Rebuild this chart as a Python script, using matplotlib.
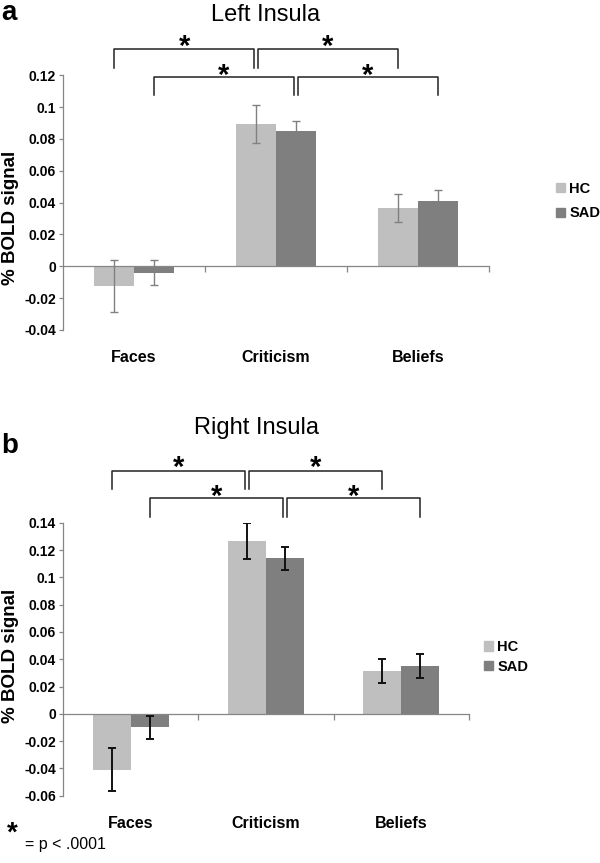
import numpy as np
import matplotlib
matplotlib.use('Agg')
import matplotlib.pyplot as plt
from matplotlib.ticker import FuncFormatter
from matplotlib.patches import Patch

plt.rcParams['font.family'] = ['Liberation Sans', 'DejaVu Sans']
plt.rcParams['axes.unicode_minus'] = False

# data
categories = ['Faces', 'Criticism', 'Beliefs']
groups = ['HC', 'SAD']

left_hc = [-0.0125, 0.0895, 0.0365]
left_hc_err = [0.0165, 0.012, 0.0088]
left_sad = [-0.004, 0.085, 0.041]
left_sad_err = [0.0077, 0.0065, 0.007]

right_hc = [-0.041, 0.1267, 0.0313]
right_hc_err = [0.0156, 0.013, 0.0086]
right_sad = [-0.010, 0.114, 0.035]
right_sad_err = [0.0087, 0.0085, 0.0086]

left_ticks = [-0.04, -0.02, 0, 0.02, 0.04, 0.06, 0.08, 0.1, 0.12]
right_ticks = [-0.06, -0.04, -0.02, 0, 0.02, 0.04, 0.06, 0.08, 0.1, 0.12, 0.14]

# significance brackets: (group a, cat a, group b, cat b)
brackets = [(0, 0, 0, 1), (0, 1, 0, 2), (1, 0, 1, 1), (1, 1, 1, 2)]

hc_col = '#bfbfbf'
sad_col = '#7f7f7f'
axis_col = '#868686'
W = 0.28

W_PX, H_PX = 600, 863


def fx(px):
    return px / W_PX


def fy(py):
    return 1 - py / H_PX


def fmt(v, pos):
    v = round(v, 4)
    if v == 0:
        return '0'
    return '%g' % v


def draw_panel(ax, hc, hc_err, sad, sad_err, ticks, ecol, elw, rows):
    x = np.arange(len(categories))
    ax.bar(x - W / 2, hc, W, color=hc_col, label=groups[0], zorder=2)
    ax.bar(x + W / 2, sad, W, color=sad_col, label=groups[1], zorder=2)
    ax.errorbar(x - W / 2, hc, yerr=hc_err, fmt='none', ecolor=ecol,
                elinewidth=elw, capsize=3, capthick=elw, zorder=3)
    ax.errorbar(x + W / 2, sad, yerr=sad_err, fmt='none', ecolor=ecol,
                elinewidth=elw, capsize=3, capthick=elw, zorder=3)

    ax.set_xlim(-0.5, 2.5)
    ax.set_ylim(ticks[0], ticks[-1])
    ax.set_yticks(ticks)
    ax.yaxis.set_major_formatter(FuncFormatter(fmt))
    ax.set_xticks([0.5, 1.5, 2.5])
    ax.set_xticklabels([])
    for s in ['top', 'right']:
        ax.spines[s].set_visible(False)
    ax.spines['bottom'].set_position(('data', 0))
    ax.spines['bottom'].set_color(axis_col)
    ax.spines['left'].set_color(axis_col)
    ax.spines['left'].set_linewidth(0.9)
    ax.spines['bottom'].set_linewidth(0.9)
    ax.tick_params(axis='y', direction='out', length=3, width=0.9,
                   color=axis_col, labelsize=10, pad=2)
    ax.tick_params(axis='x', direction='out', length=4.5, width=0.9,
                   color=axis_col)
    for lab in ax.get_yticklabels():
        lab.set_fontweight('bold')

    # category names under the plot area
    for i, c in enumerate(categories):
        ax.annotate(c, xy=(i, 0), xycoords=('data', 'axes fraction'),
                    xytext=(0, -20), textcoords='offset points',
                    ha='center', va='center', fontsize=11.5, fontweight='bold')

    # brackets
    for k, (ga, ca, gb, cb) in enumerate(brackets):
        top, leg, star_y = rows[ga]
        xa = ca + (W / 2 if ga else -W / 2)
        xb = cb + (W / 2 if gb else -W / 2)
        if k in (0, 2):
            xb -= 0.012
        else:
            xa += 0.012
        ax.plot([xa, xa, xb, xb], [leg, top, top, leg], color='#222222',
                lw=1.1, clip_on=False, zorder=4)
        ax.text((xa + xb) / 2, star_y, '*', ha='center', va='center',
                fontsize=21, fontweight='bold', clip_on=False)


fig = plt.figure(figsize=(6, 8.63), dpi=100)

ax1 = fig.add_axes([fx(63), fy(330), fx(489 - 63), (330 - 75.3) / H_PX])
draw_panel(ax1, left_hc, left_hc_err, left_sad, left_sad_err, left_ticks,
           '#808080', 1.0,
           {0: (0.1364, 0.1248, 0.1378), 1: (0.1187, 0.1074, 0.1195)})

ax2 = fig.add_axes([fx(63), fy(795.7), fx(469 - 63), (795.7 - 522.7) / H_PX])
draw_panel(ax2, right_hc, right_hc_err, right_sad, right_sad_err, right_ticks,
           '#111111', 1.4,
           {0: (0.1782, 0.1646, 0.1800), 1: (0.1584, 0.1444, 0.1590)})

# titles and panel letters
fig.text(fx(266), fy(20.7), 'Left Insula', ha='center', va='baseline', fontsize=17)
fig.text(fx(257), fy(434), 'Right Insula', ha='center', va='baseline', fontsize=17)
fig.text(fx(1), fy(20), 'a', ha='left', va='baseline', fontsize=20, fontweight='bold')
fig.text(fx(1), fy(453), 'b', ha='left', va='baseline', fontsize=20, fontweight='bold')

fig.text(fx(11), fy(218), '% BOLD signal', rotation=90, ha='center', va='center',
         fontsize=13.5, fontweight='bold')
fig.text(fx(11), fy(656), '% BOLD signal', rotation=90, ha='center', va='center',
         fontsize=13.5, fontweight='bold')

# legends
handles = [Patch(color=hc_col), Patch(color=sad_col)]
for (lx, ly, sp) in [(556, 201, 0.75), (484, 657, 0.4)]:
    fig.legend(handles, groups, loc='center left', bbox_to_anchor=(fx(lx), fy(ly)),
               frameon=False, borderpad=0, borderaxespad=0, handlelength=0.6,
               handleheight=0.6, handletextpad=0.3, labelspacing=sp,
               prop={'size': 10.5, 'weight': 'bold'})

# footnote
fig.text(fx(12), fy(834), '*', ha='center', va='center', fontsize=20, fontweight='bold')
fig.text(fx(25), fy(849), '= p < .0001', ha='left', va='baseline', fontsize=11.5)

fig.savefig('out.png', dpi=100)
